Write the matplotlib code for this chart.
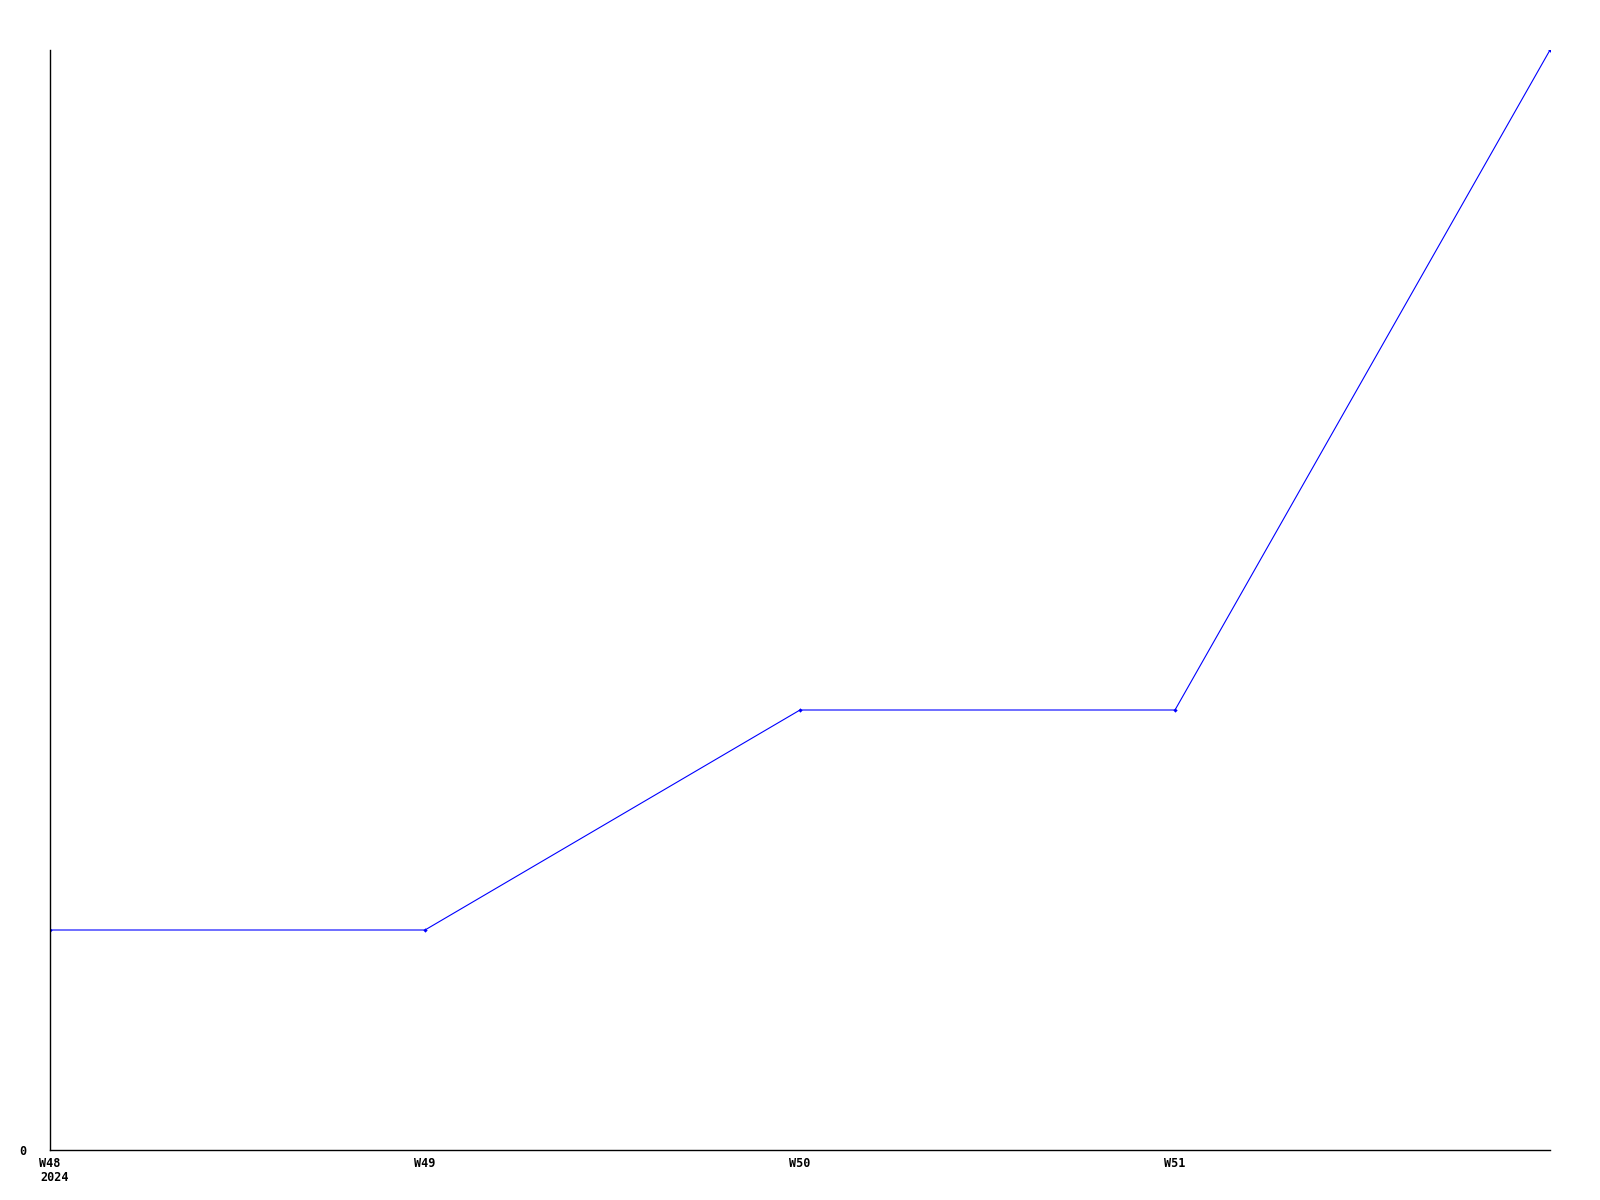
import matplotlib
matplotlib.use('Agg')
import matplotlib.pyplot as plt

weekLabels = ['W48', 'W49', 'W50', 'W51', 'W52']
weekNumbers = [48, 49, 50, 51, 52]
yearLabel = '2024'
counts = [1, 1, 2, 2, 5]

lineColor = '#0000ff'
fontName = 'DejaVu Sans Mono'

fig = plt.figure(figsize=(16, 12), dpi=100)
ax = fig.add_axes([0.03125, 0.041667, 0.9375, 0.916667])

ax.plot(weekNumbers, counts, color=lineColor, linewidth=0.8,
        marker='D', markersize=2.2, markeredgewidth=0)

ax.set_xlim(weekNumbers[0], weekNumbers[-1])
ax.set_ylim(0, max(counts))

for side in ['top', 'right']:
    ax.spines[side].set_visible(False)
for side in ['left', 'bottom']:
    ax.spines[side].set_linewidth(1.0)
    ax.spines[side].set_color('black')

# week labels under the axis, the year sits under the first one
ax.set_xticks(weekNumbers[:-1])
ax.set_xticklabels(weekLabels[:-1], fontname=fontName, fontsize=8.5, fontweight='bold')
ax.tick_params(axis='x', length=0, pad=5)
ax.annotate(yearLabel, xy=(weekNumbers[0], 0), xycoords=('data', 'axes fraction'),
            xytext=(-10, -21), textcoords='offset pixels', ha='left', va='top',
            fontname=fontName, fontsize=8.5, fontweight='bold')

ax.set_yticks([0])
ax.set_yticklabels(['0'], fontname=fontName, fontsize=8.5, fontweight='bold')
ax.tick_params(axis='y', length=0, pad=17)

fig.savefig('out.png', dpi=100, facecolor='white')
